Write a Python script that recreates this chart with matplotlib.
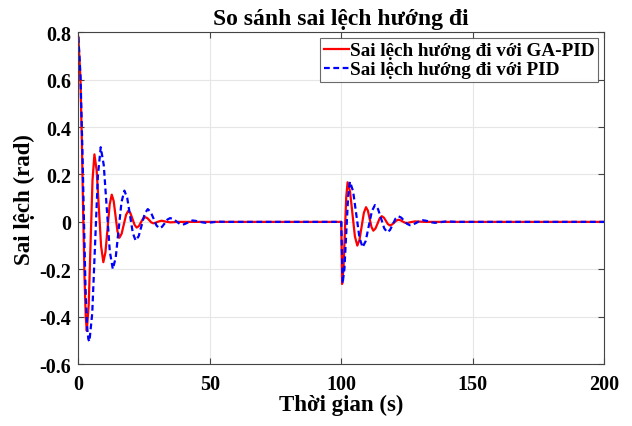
import matplotlib
matplotlib.use("Agg")
import matplotlib.pyplot as plt

plt.rcParams['font.family'] = ['Liberation Serif', 'DejaVu Serif']
plt.rcParams['font.weight'] = 'bold'

# GA-PID heading error (time in s, error in rad)
t_ga = [0, 0.8, 1.4, 1.8, 2.3, 2.8, 3.2,
        3.93, 4.65, 5.38, 6.1,
        6.95, 7.8, 8.65, 9.5,
        10.3, 11.1, 11.9, 12.7,
        13.43, 14.15, 14.88, 15.6,
        16.45, 17.3, 18.15, 19.0,
        19.8, 20.6, 21.4, 22.2,
        23.0, 23.8, 24.6, 25.4,
        26.2, 27.0, 27.7, 28.5,
        29.3, 30.1, 30.9, 31.7,
        33.3, 35.0, 38.0, 100.0,
        100.3, 100.83, 101.35, 101.88, 102.4,
        103.33, 104.25, 105.18, 106.1,
        106.93, 107.75, 108.58, 109.4,
        110.1, 110.8, 111.5, 112.2,
        113.0, 113.8, 114.6, 115.4,
        116.2, 116.95, 117.7, 118.5,
        119.3, 120.1, 120.9, 121.7,
        122.5, 123.3, 124.1, 124.9,
        126.5, 128.0, 132.0, 200.0]
e_ga = [0.78, 0.6, 0.3, 0.05, -0.22, -0.40, -0.46,
        -0.351, -0.088, 0.176, 0.285,
        0.218, 0.058, -0.103, -0.17,
        -0.128, -0.028, 0.073, 0.115,
        0.088, 0.024, -0.040, -0.067,
        -0.050, -0.010, 0.030, 0.047,
        0.037, 0.012, -0.013, -0.024,
        -0.018, -0.002, 0.014, 0.02,
        0.016, 0.007, -0.002, -0.006,
        -0.004, 0.0, 0.003, 0.005,
        0.001, -0.002, 0.0, 0.0,
        -0.262, -0.199, -0.048, 0.104, 0.167,
        0.128, 0.034, -0.061, -0.10,
        -0.076, -0.019, 0.038, 0.062,
        0.048, 0.013, -0.022, -0.037,
        -0.028, -0.007, 0.015, 0.024,
        0.018, 0.005, -0.009, -0.015,
        -0.011, -0.003, 0.005, 0.009,
        0.007, 0.002, -0.003, -0.005,
        -0.001, 0.002, 0.0, 0.0]

# PID heading error
t_pid = [0, 0.8, 1.5, 2.1, 2.7, 3.3, 3.8, 4.2,
         5.28, 6.35, 7.43, 8.5,
         9.65, 10.8, 11.95, 13.1,
         14.2, 15.3, 16.4, 17.5,
         18.58, 19.65, 20.73, 21.8,
         22.95, 24.1, 25.25, 26.4,
         27.5, 28.6, 29.7, 30.8,
         31.8, 32.85, 33.9, 34.9,
         36.1, 37.3, 38.5, 39.7,
         40.65, 41.6, 42.55, 43.5,
         44.75, 46.0, 47.25, 48.5,
         50.75, 53.0, 56.0, 100.0,
         100.5, 101.2, 101.9, 102.6, 103.3,
         104.5, 105.7, 106.9, 108.1,
         109.28, 110.45, 111.63, 112.8,
         113.98, 115.15, 116.33, 117.5,
         118.55, 119.6, 120.65, 121.7,
         122.8, 123.9, 125.0, 126.1,
         127.3, 128.55, 129.8, 131.0,
         132.15, 133.3, 134.45, 135.6,
         137.8, 140.0, 144.0, 200.0]
e_pid = [0.78, 0.62, 0.32, 0.02, -0.27, -0.44, -0.495, -0.505,
         -0.385, -0.095, 0.195, 0.315,
         0.240, 0.058, -0.124, -0.199,
         -0.151, -0.034, 0.083, 0.132,
         0.101, 0.027, -0.048, -0.079,
         -0.060, -0.013, 0.035, 0.054,
         0.042, 0.014, -0.015, -0.027,
         -0.021, -0.006, 0.010, 0.016,
         0.012, 0.002, -0.008, -0.012,
         -0.008, -0.003, 0.003, 0.006,
         0.004, 0.001, -0.002, -0.004,
         -0.002, 0.001, 0.0, 0.0,
         -0.26, -0.197, -0.045, 0.107, 0.17,
         0.129, 0.032, -0.066, -0.107,
         -0.081, -0.018, 0.045, 0.071,
         0.054, 0.014, -0.027, -0.044,
         -0.034, -0.010, 0.014, 0.024,
         0.018, 0.005, -0.008, -0.014,
         -0.011, -0.004, 0.004, 0.007,
         0.005, 0.002, -0.002, -0.004,
         -0.001, 0.002, 0.0, 0.0]

x_ticks = [0, 50, 100, 150, 200]
y_ticks = [-0.6, -0.4, -0.2, 0, 0.2, 0.4, 0.6, 0.8]

fig = plt.figure(figsize=(6.32, 4.27), dpi=100)
ax = fig.add_axes([0.124, 0.145, 0.832, 0.777])

ax.plot(t_ga, e_ga, color='#ff0000', linewidth=1.6, label='Sai lệch hướng đi với GA-PID')
ax.plot(t_pid, e_pid, color='#0000ff', linewidth=1.6, linestyle=(0, (2.6, 1.6)),
        label='Sai lệch hướng đi với PID')

ax.set_xlim(0, 200)
ax.set_ylim(-0.6, 0.8)
ax.set_xticks(x_ticks)
ax.set_yticks(y_ticks)
ax.set_xticklabels([str(v) for v in x_ticks])
ax.set_yticklabels(['-0.6', '-0.4', '-0.2', '0', '0.2', '0.4', '0.6', '0.8'])
ax.tick_params(direction='in', top=True, right=True, labelsize=14.5, length=4,
               color='#444444')
ax.tick_params(axis='x', pad=7)
ax.tick_params(axis='y', pad=5)
for lbl in ax.get_xticklabels() + ax.get_yticklabels():
    lbl.set_fontweight('bold')
for sp in ax.spines.values():
    sp.set_color('#444444')
    sp.set_linewidth(0.8)
ax.grid(True, color='#e6e6e6', linewidth=0.8)
ax.set_axisbelow(True)

ax.set_title('So sánh sai lệch hướng đi', fontsize=17, fontweight='bold', pad=6)
ax.set_xlabel('Thời gian (s)', fontsize=16.5, fontweight='bold', labelpad=0)
ax.set_ylabel('Sai lệch (rad)', fontsize=16.5, fontweight='bold', labelpad=3)

leg = ax.legend(loc='upper right', fontsize=13.8, frameon=True, fancybox=False,
                edgecolor='#444444', handlelength=1.3, handletextpad=0.05,
                borderaxespad=0.3, borderpad=0.2, labelspacing=0.08)
leg.get_frame().set_linewidth(0.8)
for txt in leg.get_texts():
    txt.set_fontweight('bold')

fig.savefig('out.png', dpi=100)
